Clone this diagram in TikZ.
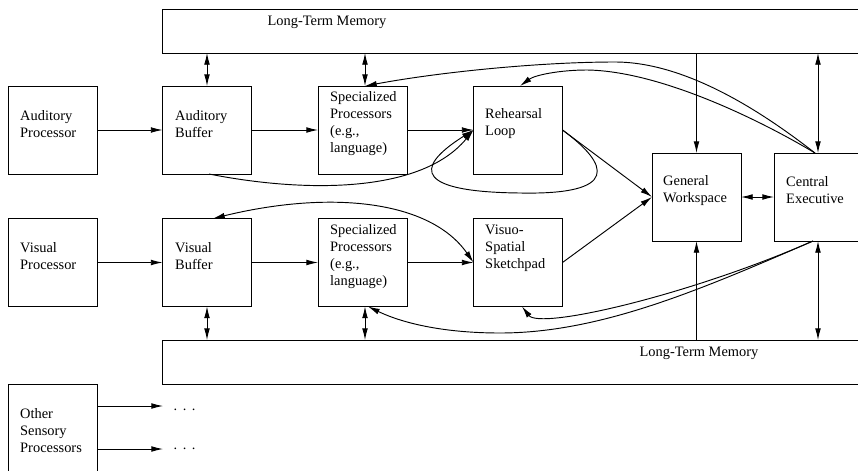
\documentclass[tikz,border=0pt]{standalone}
\usepackage{fontspec}
\setmainfont{Liberation Serif}
\usetikzlibrary{arrows.meta,calc}
\begin{document}
\begin{tikzpicture}[x=0.03cm,y=-0.03cm,
  box/.style={draw, line width=0.8pt, minimum width=2.67cm, minimum height=2.64cm, inner sep=0pt, outer sep=0pt},
  txt/.style={font=\fontsize{12.3}{14.5}\selectfont, align=left, inner sep=0pt, anchor=west},
  ltmtxt/.style={font=\fontsize{12.3}{14.5}\selectfont, inner sep=0pt},
  conn/.style={line width=0.8pt},
  arr/.style={conn, -{Latex[length=10pt,width=5pt]}},
  darr/.style={conn, {Latex[length=10pt,width=5pt]}-{Latex[length=10pt,width=5pt]}}]
\clip (0,0) rectangle (858,470);
% boxes
\node[box] (ap) at (52.5,130) {};
\node[box] (ab) at (207,130) {};
\node[box] (sp1) at (362.5,130) {};
\node[box] (rl) at (518,130) {};
\node[box] (gw) at (696.5,197) {};
\node[box, minimum width=3.3cm] (ce) at (829,197) {};
\node[box] (vp) at (52.5,262.5) {};
\node[box] (vb) at (207,262.5) {};
\node[box] (sp2) at (362.5,262.5) {};
\node[box] (vss) at (518,262.5) {};
\node[box, minimum width=21.3cm, minimum height=1.32cm] (ltm1) at (517,31) {};
\node[box, minimum width=21.3cm, minimum height=1.32cm] (ltm2) at (517,362) {};
\node[box, minimum height=3.0cm] (osp) at (52.5,434) {};
% texts
\node[txt] (apt) at (20,124) {Auditory\\Processor};
\node[txt] (abt) at (175,124) {Auditory\\Buffer};
\node[txt] (sp1t) at (330,124) {Specialized\\Processors\\(e.g.,\\language)};
\node[txt] (rlt) at (485,124) {Rehearsal\\Loop};
\node[txt] (gwt) at (663,190.5) {General\\Workspace};
\node[txt] (cet) at (786,190.5) {Central\\Executive};
\node[txt] (vpt) at (20,256.5) {Visual\\Processor};
\node[txt] (vbt) at (175,256.5) {Visual\\Buffer};
\node[txt] (sp2t) at (330,257) {Specialized\\Processors\\(e.g.,\\language)};
\node[txt] (vsst) at (485,248.5) {Visuo-\\Spatial\\Sketchpad};
\node[txt] (ospt) at (20,430.5) {Other\\Sensory\\Processors};
\node[ltmtxt] (ltm1t) at (327,22) {Long-Term Memory};
\node[ltmtxt] (ltm2t) at (699,353) {Long-Term Memory};
\node[ltmtxt, anchor=base west] (d1) at (173.5,410.5) {.\hspace{4.7pt}.\hspace{4.7pt}.};
\node[ltmtxt, anchor=base west] (d2) at (173.5,449.5) {.\hspace{4.7pt}.\hspace{4.7pt}.};
% straight connectors
\draw[arr] (ap.east) -- (ab.west);
\draw[arr] (ab.east) -- (sp1.west);
\draw[arr] (sp1.east) -- (rl.west);
\draw[arr] (vp.east) -- (vb.west);
\draw[arr] (vb.east) -- (sp2.west);
\draw[arr] (sp2.east) -- (vss.west);
\draw[arr] (rl.east) -- (gw.west);
\draw[arr] (vss.east) -- (gw.west);
\draw[darr] (gw.east) -- (ce.west);
\coordinate (e1) at (163,406);
\coordinate (e2) at (163,449);
\draw[arr] (osp.east |- e1) -- (e1);
\draw[arr] (osp.east |- e2) -- (e2);
% vertical connectors
\coordinate (s1n) at ($(sp1.north)+(2.5,0)$);
\coordinate (s2s) at ($(sp2.south)+(2.5,0)$);
\coordinate (ceN) at ($(ce.north west)+(44,0)$);
\coordinate (ceS) at ($(ce.south west)+(44,0)$);
\draw[darr] (ab.north) -- (ab.north |- ltm1.south);
\draw[darr] (s1n) -- (s1n |- ltm1.south);
\draw[arr] (gw.north |- ltm1.south) -- (gw.north);
\draw[darr] (ceN) -- (ceN |- ltm1.south);
\draw[darr] (vb.south) -- (vb.south |- ltm2.north);
\draw[darr] (s2s) -- (s2s |- ltm2.north);
\draw[arr] (gw.south |- ltm2.north) -- (gw.south);
\draw[darr] (ceS) -- (ceS |- ltm2.north);
% curved connectors
\coordinate (ceA) at ($(ce.north west)+(41,0)$);
\coordinate (ceB) at ($(ce.south west)+(39,0)$);
\coordinate (rlN) at ($(rl.north)+(2,0)$);
\coordinate (abS) at ($(ab.south)+(2,0)$);
\coordinate (vbN) at ($(vb.north)+(6,0)$);
\coordinate (s2b) at ($(sp2.south)+(5.5,0)$);
\coordinate (vssb) at ($(vss.south)+(4,0)$);
\draw[arr] (ceA) .. controls (770,118) and (690,62) .. (615,62) .. controls (540,62) and (440,72) .. (s1n);
\draw[arr] (ceA) .. controls (760,120) and (660,71) .. (587,70) .. controls (560,70) and (535,75) .. (rlN);
\draw[arr] (abS) .. controls (300,192) and (420,195) .. (rl.west);
\draw[arr] (rl.east) .. controls (610,165) and (620,195) .. (520,193) .. controls (420,192) and (410,170) .. (rl.west);
\draw[darr] (vbN) .. controls (330,190) and (430,200) .. (vss.west);
\draw[arr] (ceB) .. controls (700,290) and (600,333) .. (500,333) .. controls (440,333) and (400,322) .. (s2b);
\draw[arr] (ceB) .. controls (690,295) and (540,330) .. (vssb);
\end{tikzpicture}
\end{document}
